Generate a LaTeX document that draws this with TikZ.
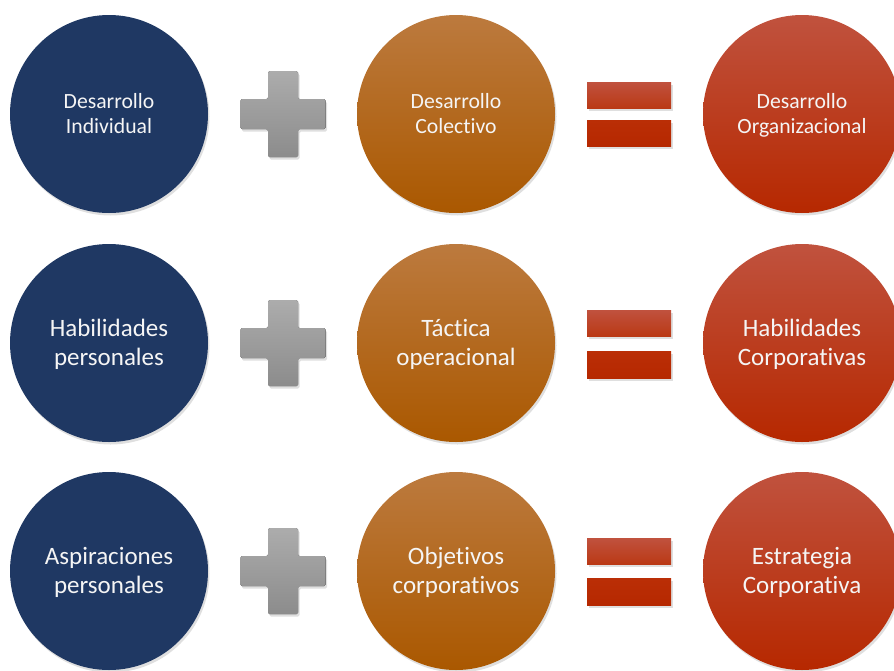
\documentclass[tikz,border=0pt]{standalone}
\usepackage{fontspec}
\setmainfont{Carlito}[Ligatures=NoCommon]
\usetikzlibrary{shadows}

\definecolor{navyfill}{RGB}{31,56,99}
\definecolor{orangetop}{RGB}{188,122,62}
\definecolor{orangebot}{RGB}{170,88,0}
\definecolor{redtop}{RGB}{192,82,62}
\definecolor{redbot}{RGB}{182,40,0}
\definecolor{greytop}{RGB}{172,172,172}
\definecolor{greybot}{RGB}{140,140,140}
\definecolor{labelwhite}{RGB}{245,245,245}

\tikzset{
  softshadow/.style={drop shadow={opacity=0.25, shadow xshift=1.5pt, shadow yshift=-2.5pt}},
  disc/.style={circle, minimum size=198pt, inner sep=0pt, align=center,
               text=labelwhite, softshadow},
  smalltext/.style={font=\fontsize{21.7}{25}\selectfont},
  bigtext/.style={font=\fontsize{25}{28.5}\selectfont},
  navydisc/.style={disc, fill=navyfill},
  orangedisc/.style={disc, top color=orangetop, bottom color=orangebot},
  reddisc/.style={disc, top color=redtop, bottom color=redbot},
  eqbar/.style={rectangle, minimum width=84pt, minimum height=26.5pt, inner sep=0pt, softshadow},
  eqtop/.style={eqbar, top color=redtop, bottom color={rgb,255:red,186;green,56;blue,20}},
  eqbot/.style={eqbar, top color={rgb,255:red,186;green,46;blue,6}, bottom color=redbot},
  plusfill/.style={top color=greytop, bottom color=greybot, softshadow},
}

% two-line label with even vertical extent, set slightly low in its disc
\newcommand{\twolines}[2]{\rule{0pt}{0.85\baselineskip}#1\\#2\strut}

% plus sign centred at the given point
\newcommand{\plussign}[1]{%
  \fill[plusfill, rounded corners=1.5pt, shift={(#1)}]
    (-15,-43) -- (15,-43) -- (15,-15) -- (42.5,-15) -- (42.5,15) -- (15,15)
    -- (15,43) -- (-15,43) -- (-15,15) -- (-42.5,15) -- (-42.5,-15) -- (-15,-15) -- cycle;}

\begin{document}
\begin{tikzpicture}[x=1pt,y=-1pt]
  \useasboundingbox (0,0) rectangle (894,670);

  % row 1
  \node[navydisc, smalltext]  (ind)  at (109,114) {\twolines{Desarrollo}{Individual}};
  \node[orangedisc, smalltext] (col) at (456,114) {\twolines{Desarrollo}{Colectivo}};
  \node[reddisc, smalltext]   (org)  at (802,114) {\twolines{Desarrollo}{Organizacional}};
  \plussign{283,114}
  \node[eqtop] (eqa1) at (629,95.5) {};
  \node[eqbot] (eqa2) at (629,133.5) {};

  % row 2
  \node[navydisc, bigtext]  (hab)  at (109,343) {\twolines{Habilidades}{personales}};
  \node[orangedisc, bigtext] (tac) at (456,343) {\twolines{Táctica}{operacional}};
  \node[reddisc, bigtext]   (hcor) at (802,343) {\twolines{Habilidades}{Corporativas}};
  \plussign{283,343}
  \node[eqtop] (eqb1) at (629,323.5) {};
  \node[eqbot] (eqb2) at (629,365) {};

  % row 3
  \node[navydisc, bigtext]  (asp)  at (109,571) {\twolines{Aspiraciones}{personales}};
  \node[orangedisc, bigtext] (obj) at (456,571) {\twolines{Objetivos}{corporativos}};
  \node[reddisc, bigtext]   (est)  at (802,571) {\twolines{Estrategia}{Corporativa}};
  \plussign{283,571}
  \node[eqtop] (eqc1) at (629,551.5) {};
  \node[eqbot] (eqc2) at (629,592) {};
\end{tikzpicture}
\end{document}
